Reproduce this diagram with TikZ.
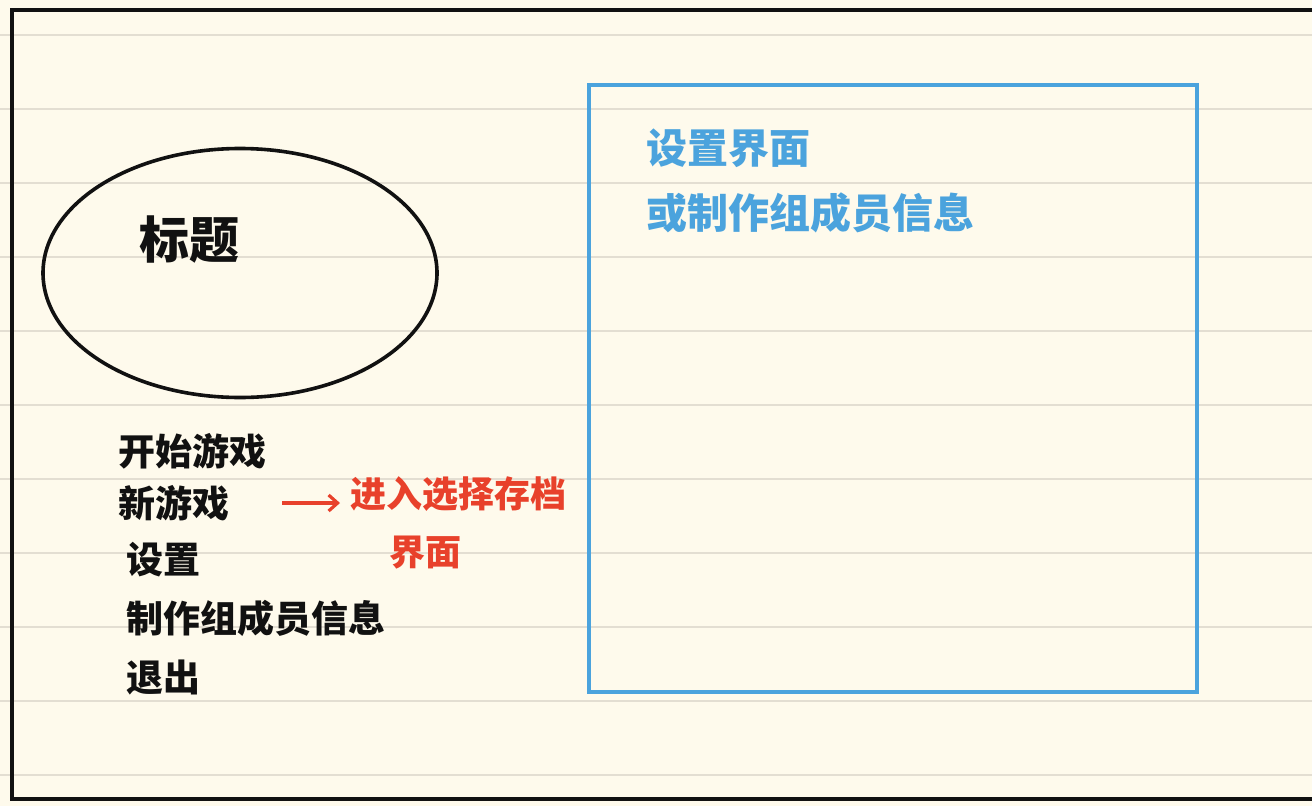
\documentclass[tikz,border=0pt]{standalone}
\usepackage{fontspec}
\newfontfamily\cjk{Noto Sans CJK SC}
\usetikzlibrary{arrows.meta,shapes.geometric}
\definecolor{paper}{HTML}{FEFAEC}
\definecolor{rule}{HTML}{E3DED2}
\definecolor{penblue}{HTML}{4BA3DD}
\definecolor{penred}{HTML}{E8412B}
\definecolor{ink}{HTML}{111111}
\tikzset{
  ruling/.style={draw=rule, line width=1.5pt},
  frame/.style={draw=ink, line width=3.4pt},
  label/.style={inner sep=0pt, anchor=west, text=ink, font=\cjk\bfseries\fontsize{37}{41}\selectfont},
  redtxt/.style={inner sep=0pt, anchor=west, text=penred, font=\cjk\bfseries\fontsize{36}{40}\selectfont},
  bluetxt/.style={inner sep=0pt, anchor=west, text=penblue, font=\cjk\bfseries\fontsize{41}{45}\selectfont},
}
\begin{document}
\begin{tikzpicture}[x=1pt, y=-1pt]
\useasboundingbox (0,0) rectangle (1312,806);
\fill[paper] (0,0) rectangle (1312,806);
\foreach \yy in {35,109,183,257,331,405,479,553,627,701,775}
  \draw[ruling] (0,\yy) -- (1312,\yy);
% outer frame (open on the right)
\draw[frame] (1312,10) -- (12,10) -- (12,799) -- (1312,799);
% title ellipse
\node[draw=ink, line width=3.6pt, ellipse, minimum width=394pt, minimum height=249pt, inner sep=0pt] (titleell) at (240,273) {};
\node[inner sep=0pt, anchor=west, text=ink, font=\cjk\bfseries\fontsize{50}{54}\selectfont] (title) at (139,240) {标题};
% menu
\node[label] (start) at (118,451) {开始游戏};
\node[label] (newgame) at (118,503) {新游戏};
\node[label] (settings) at (126,560) {设置};
\node[label] (credits) at (126,618) {制作组成员信息};
\node[label] (quit) at (126,678) {退出};
% red annotation
\node[redtxt] (red1) at (350,494) {进入选择存档};
\node[redtxt] (red2) at (389,553) {界面};
\coordinate (arrA) at (282,503);
\coordinate (arrB) at (340,503);
\draw[penred, line width=3.2pt, -{Straight Barb[length=9pt,width=16pt]}] (arrA) -- (arrB);
% blue box
\draw[penblue, line width=3.4pt] (589,85) rectangle (1197,692);
\node[bluetxt] (blue1) at (646,148) {设置界面};
\node[bluetxt] (blue2) at (646,213) {或制作组成员信息};
\end{tikzpicture}
\end{document}
